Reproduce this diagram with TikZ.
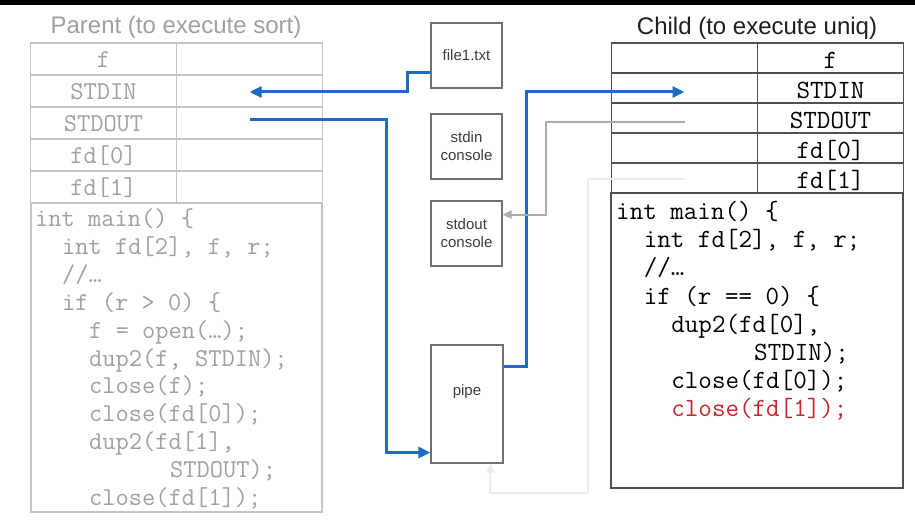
\documentclass[tikz,border=0pt]{standalone}
\usepackage{fontspec}
\setmainfont{Liberation Sans}
\usetikzlibrary{arrows.meta,calc}

\definecolor{flowblue}{RGB}{28,108,194}
\definecolor{paleline}{RGB}{196,196,196}
\definecolor{paletext}{RGB}{160,160,160}
\definecolor{darkline}{RGB}{80,80,80}
\definecolor{boxline}{RGB}{112,112,112}
\definecolor{boxtext}{RGB}{60,60,60}
\definecolor{greyflow}{RGB}{172,172,172}
\definecolor{ghostflow}{RGB}{236,236,236}
\definecolor{closered}{RGB}{196,40,44}

% code is set in the typewriter face, sized so one column is 13.5pt / 13.8pt
\newcommand{\pcodefont}{\ttfamily\fontsize{25.7}{28}\selectfont}
\newcommand{\ccodefont}{\ttfamily\fontsize{26.3}{28}\selectfont}

\tikzset{
  title/.style={font=\fontsize{24}{28}\selectfont, anchor=base, inner sep=0pt},
  pcell/.style={draw=paleline, line width=1.2pt, rectangle, inner sep=0pt,
    minimum width=146pt, minimum height=32pt, text=paletext,
    font=\pcodefont, text height=18pt, text depth=0pt},
  ccell/.style={draw=darkline, line width=1.5pt, rectangle, inner sep=0pt,
    minimum width=146pt, minimum height=30pt, text=black,
    font=\ccodefont, text height=21pt, text depth=0pt},
  pline/.style={anchor=base west, inner sep=0pt, text=paletext, font=\pcodefont},
  cline/.style={anchor=base west, inner sep=0pt, text=black, font=\ccodefont},
  resbox/.style={draw=boxline, line width=1.3pt, rectangle, inner sep=0pt,
    minimum width=71pt, text=boxtext, align=center,
    font=\fontsize{15}{18}\selectfont},
  bluewire/.style={draw=flowblue, line width=3pt,
    -{Triangle[length=12pt,width=11pt]}},
  greywire/.style={draw=greyflow, line width=2pt,
    -{Triangle[length=9pt,width=8pt]}},
  ghostwire/.style={draw=ghostflow, line width=2pt,
    -{Triangle[length=9pt,width=8pt]}},
}

\begin{document}
\begin{tikzpicture}[x=1pt,y=-1pt]
  % canvas and top band
  \fill[white] (0,0) rectangle (915,521);
  \useasboundingbox (0,0) rectangle (915,521);
  \fill[black] (0,0) rectangle (915,5);

  % ---------- parent process ----------
  \node[title, text=paletext] (ptitle) at (176,34) {Parent (to execute sort)};
  \node[pcell] (pfL)   at (103.5,59)  {f};
  \node[pcell] (pfR)   at (249.5,59)  {};
  \node[pcell] (pinL)  at (103.5,91)  {STDIN};
  \node[pcell] (pinR)  at (249.5,91)  {};
  \node[pcell] (poutL) at (103.5,123) {STDOUT};
  \node[pcell] (poutR) at (249.5,123) {};
  \node[pcell] (pzL)   at (103.5,155) {fd[0]};
  \node[pcell] (pzR)   at (249.5,155) {};
  \node[pcell] (poL)   at (103.5,187) {fd[1]};
  \node[pcell] (poR)   at (249.5,187) {};

  \begin{scope}
    \clip (31,203) rectangle (322,511);
    \node[pline] (p1)  at (35,227)   {int main() \{};
    \node[pline] (p2)  at (62,254.8) {int fd[2], f, r;};
    \node[pline] (p3)  at (62,282.6) {//…};
    \node[pline] (p4)  at (62,310.4) {if (r > 0) \{};
    \node[pline] (p5)  at (89,338.2) {f = open(…);};
    \node[pline] (p6)  at (89,366)   {dup2(f, STDIN);};
    \node[pline] (p7)  at (89,393.8) {close(f);};
    \node[pline] (p8)  at (89,421.6) {close(fd[0]);};
    \node[pline] (p9)  at (89,449.4) {dup2(fd[1],};
    \node[pline] (p10) at (170,477.2) {STDOUT);};
    \node[pline] (p11) at (89,505)   {close(fd[1]);};
  \end{scope}
  \node[draw=paleline, line width=1.2pt, rectangle, inner sep=0pt,
        minimum width=291pt, minimum height=309pt] (pcode) at (176.5,357.5) {};

  % ---------- child process ----------
  \node[title, text=black!88] (ctitle) at (757,35) {Child (to execute uniq)};
  \node[ccell] (cfL)   at (684.5,58)  {};
  \node[ccell] (cfR)   at (830.5,58)  {f};
  \node[ccell] (cinL)  at (684.5,88)  {};
  \node[ccell] (cinR)  at (830.5,88)  {STDIN};
  \node[ccell] (coutL) at (684.5,118) {};
  \node[ccell] (coutR) at (830.5,118) {STDOUT};
  \node[ccell] (czL)   at (684.5,148) {};
  \node[ccell] (czR)   at (830.5,148) {fd[0]};
  \node[ccell] (coL)   at (684.5,178) {};
  \node[ccell] (coR)   at (830.5,178) {fd[1]};
  \node[draw=darkline, line width=1.5pt, rectangle, inner sep=0pt,
        minimum width=292pt, minimum height=295pt] (ccode) at (757,340.5) {};

  \node[cline] (c1) at (616,220)   {int main() \{};
  \node[cline] (c2) at (643.6,248) {int fd[2], f, r;};
  \node[cline] (c3) at (643.6,276) {//…};
  \node[cline] (c4) at (643.6,304) {if (r == 0) \{};
  \node[cline] (c5) at (671.2,332) {dup2(fd[0],};
  \node[cline] (c6) at (754,360)   {STDIN);};
  \node[cline] (c7) at (671.2,388) {close(fd[0]);};
  \node[cline, text=closered] (c8) at (671.2,416) {close(fd[1]);};

  % ---------- kernel-side objects ----------
  \node[resbox, minimum height=65pt]  (file1)  at (466.5,55.5)  {file1.txt};
  \node[resbox, minimum height=65pt]  (stdin)  at (466.5,146.5) {stdin\\console};
  \node[resbox, minimum height=65pt]  (stdout) at (466.5,233.5) {stdout\\console};
  \node[resbox, minimum width=72pt, minimum height=118pt] (pipe) at (467,404) {};
  \node[text=boxtext, font=\fontsize{15}{18}\selectfont, inner sep=0pt]
        (pipelbl) at (467,392) {pipe};

  % ---------- descriptor wiring ----------
  \coordinate (f1out)   at ($(file1.south west)!0.25!(file1.north west)$);
  \coordinate (pipein)  at ($(pipe.south west)!0.093!(pipe.north west)$);
  \coordinate (pipeout) at ($(pipe.north east)!0.186!(pipe.south east)$);
  \coordinate (sdin)    at ($(stdout.north east)!0.215!(stdout.south east)$);
  \coordinate (pipebot) at ($(pipe.south west)!0.82!(pipe.south east)$);

  % file1.txt -> parent STDIN
  \draw[bluewire] (f1out) -- ++(-23,0) |- ([yshift=-1pt]pinR.center);
  % parent STDOUT -> pipe
  \draw[bluewire] ([yshift=3pt]poutR.center) -| ([xshift=-44pt]pipein) -- (pipein);
  % pipe -> child STDIN
  \draw[bluewire] (pipeout) -- ++(23,0) |- ([yshift=-4pt]cinL.center);
  % child STDOUT -> stdout console
  \draw[greywire] ([yshift=-4pt]coutL.center) -| ([xshift=43pt]sdin) -- (sdin);
  % child fd[1] -> pipe (still open)
  \draw[ghostwire] ([yshift=-1pt]coL.center) -- ++(-97,0) |- ([yshift=-29pt]pipebot) -- (pipebot);
\end{tikzpicture}
\end{document}
